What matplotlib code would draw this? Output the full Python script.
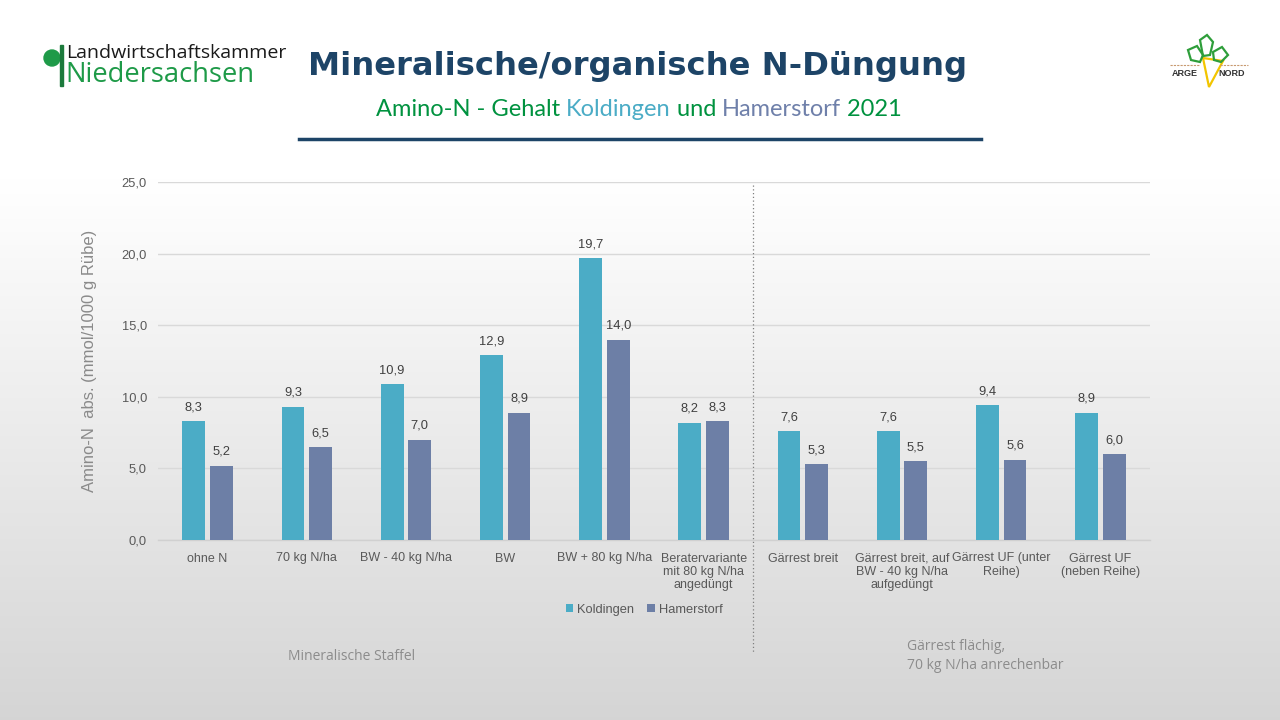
import numpy as np
import matplotlib
matplotlib.use("Agg")
import matplotlib.pyplot as plt
from matplotlib.lines import Line2D
from matplotlib.patches import Ellipse, Rectangle, Polygon
import matplotlib.transforms as mtransforms

# ---------------- data ----------------
categories = ["ohne N", "70 kg N/ha", "BW - 40 kg N/ha", "BW", "BW + 80 kg N/ha",
              "Beratervariante\nmit 80 kg N/ha\nangedüngt", "Gärrest breit",
              "Gärrest breit, auf\nBW - 40 kg N/ha\naufgedüngt", "Gärrest UF (unter\nReihe)",
              "Gärrest UF\n(neben Reihe)"]
koldingen = [8.3, 9.3, 10.9, 12.9, 19.7, 8.2, 7.6, 7.6, 9.4, 8.9]
hamerstorf = [5.2, 6.5, 7.0, 8.9, 14.0, 8.3, 5.3, 5.5, 5.6, 6.0]
series_names = ["Koldingen", "Hamerstorf"]
yticks = [0, 5, 10, 15, 20, 25]
title = "Mineralische/organische N-Düngung"
subtitle_parts = [("Amino-N - Gehalt ", "#00923F"), ("Koldingen", "#4BACC6"),
                  (" und ", "#00923F"), ("Hamerstorf", "#6F80AA"), (" 2021", "#00923F")]
ylabel = "Amino-N  abs. (mmol/1000 g Rübe)"
group_labels = ["Mineralische Staffel", "Gärrest flächig,\n70 kg N/ha anrechenbar"]

c_kold = "#4BACC6"
c_ham = "#6D7FA6"
txt_grey = "#595959"

plt.rcParams['font.family'] = ['Liberation Sans', 'DejaVu Sans']

fig = plt.figure(figsize=(12.8, 7.2), dpi=100)

# background gradient
bg = fig.add_axes([0, 0, 1, 1], zorder=-10)
grad = np.linspace(0, 1, 256)
vals = np.clip((grad - 0.25) / 0.75, 0, 1)
img = np.empty((256, 1, 3))
top = np.array([1.0, 1.0, 1.0])
bot = np.array([0.835, 0.835, 0.835])
for i, v in enumerate(vals):
    img[i, 0, :] = top * (1 - v) + bot * v
bg.imshow(img, aspect='auto', extent=[0, 1, 0, 1], origin='upper')
bg.set_axis_off()

ax = fig.add_axes([158/1280, 1-540/720, (1150-158)/1280, 358/720])
ax.set_facecolor('none')

x = np.arange(len(categories))
w = 0.23
off = 0.14
b1 = ax.bar(x - off, koldingen, w, color=c_kold, label=series_names[0], zorder=3)
b2 = ax.bar(x + off, hamerstorf, w, color=c_ham, label=series_names[1], zorder=3)
for bars, vals_ in ((b1, koldingen), (b2, hamerstorf)):
    for r, v in zip(bars, vals_):
        ax.text(r.get_x() + r.get_width()/2, v + 0.55, f"{v:.1f}".replace('.', ','),
                ha='center', va='bottom', fontsize=9.3, color="#404040")

ax.set_xlim(-0.5, len(categories) - 0.5)
ax.set_ylim(0, 25)
ax.set_yticks(yticks)
ax.set_yticklabels([f"{t:.1f}".replace('.', ',') for t in yticks], fontsize=9.3, color=txt_grey)
ax.set_xticks(x)
ax.set_xticklabels(categories, fontsize=9, color=txt_grey, linespacing=1.12, va='top')
ax.tick_params(axis='both', length=0, pad=8)
ax.tick_params(axis='x', pad=9)
ax.grid(axis='y', color='#d9d9d9', linewidth=1, zorder=0)
for s in ['top', 'right', 'left']:
    ax.spines[s].set_visible(False)
ax.spines['bottom'].set_color('#d0d0d0')
ax.spines['bottom'].set_linewidth(1)

ax.set_ylabel(ylabel, fontsize=12, color="#8a8a8a", labelpad=18)

# dotted separator
trans = mtransforms.blended_transform_factory(ax.transData, ax.transAxes)
ax.add_line(Line2D([5.5, 5.5], [0.992, -0.313], transform=trans, linestyle=(0, (1, 2)),
                   color='#7f7f7f', linewidth=0.9, clip_on=False))

# legend
leg = ax.legend(loc='upper center', bbox_to_anchor=(0.49, -0.145), ncol=2, frameon=False,
                fontsize=9.3, handlelength=0.6, handleheight=0.6, handletextpad=0.3,
                columnspacing=1.0, labelcolor=txt_grey)

# group labels
fig.text(352/1280, 1-657/720, group_labels[0], ha='center', va='center', fontsize=10,
         color="#8c8c8c", family=['Open Sans', 'DejaVu Sans'])
fig.text(907/1280, 1-656/720, group_labels[1], ha='left', va='center', fontsize=10,
         color="#8c8c8c", family=['Open Sans', 'DejaVu Sans'], linespacing=1.3)

# title
fig.text(638/1280, 1-66/720, title, ha='center', va='center', fontsize=23.2, fontweight='bold',
         color="#1D4467", family=['DejaVu Sans'])

# subtitle multicolor
fig.canvas.draw()
renderer = fig.canvas.get_renderer()
sub_fs = 17
texts = []
for s, col in subtitle_parts:
    t = fig.text(0, 1-110/720, s.replace(' ', '\u00a0'), ha='left', va='center', fontsize=sub_fs,
                 color=col, family=['Lato', 'DejaVu Sans'])
    texts.append(t)
full = ""
cum = []
for s, _ in subtitle_parts:
    full += s
    tmp = fig.text(0, 0, full.replace(' ', '\u00a0') + "|", fontsize=sub_fs, family=['Lato', 'DejaVu Sans'])
    bar = fig.text(0, 0, "|", fontsize=sub_fs, family=['Lato', 'DejaVu Sans'])
    wpx = tmp.get_window_extent(renderer).width - bar.get_window_extent(renderer).width
    tmp.remove(); bar.remove()
    cum.append(wpx)
total = cum[-1]
start = 639 - total/2
prev = 0
for t, c in zip(texts, cum):
    t.set_x((start + prev)/1280)
    prev = c

# rule under subtitle
fig.add_artist(Line2D([299/1280, 981/1280], [1-139/720, 1-139/720], color="#1D4467",
                      linewidth=2.5, transform=fig.transFigure))

# logo left
fig.add_artist(Ellipse((52/1280, 1-58/720), 16/1280, 16/720, transform=fig.transFigure,
                       color="#1E9A48"))
fig.add_artist(Rectangle((59.5/1280, 1-86/720), 3.5/1280, 41/720, transform=fig.transFigure,
                         color="#1C7A3C"))
fig.text(66/1280, 1-53/720, "Landwirtschaftskammer", fontsize=14, color="#1a1a1a",
         va='center', ha='left', family=['Open Sans', 'DejaVu Sans'])
fig.text(65/1280, 1-75/720, "Niedersachsen", fontsize=19.7, color="#1E9A48",
         va='center', ha='left', family=['Open Sans', 'DejaVu Sans'])

# logo right (ARGE NORD)
def fp(pts):
    return [(px/1280, 1-py/720) for px, py in pts]
fig.add_artist(Polygon(fp([(1203, 58), (1223, 61), (1209, 87)]), closed=True,
                       transform=fig.transFigure, fill=False, edgecolor="#F2C500", linewidth=1.6))
fig.add_artist(Polygon(fp([(1188, 50), (1197, 46), (1203, 55), (1200, 62), (1191, 60)]), closed=True,
                       transform=fig.transFigure, fill=False, edgecolor="#2E9E3A", linewidth=1.6))
fig.add_artist(Polygon(fp([(1200, 40), (1207, 35), (1213, 42), (1210, 55), (1203, 56)]), closed=True,
                       transform=fig.transFigure, fill=False, edgecolor="#2E9E3A", linewidth=1.6))
fig.add_artist(Polygon(fp([(1213, 52), (1222, 47), (1228, 55), (1221, 62), (1214, 60)]), closed=True,
                       transform=fig.transFigure, fill=False, edgecolor="#2E9E3A", linewidth=1.6))
fig.add_artist(Line2D([1170/1280, 1200/1280], [1-65/720, 1-65/720], color="#C89A70",
                      linewidth=0.8, linestyle=(0, (2, 1)), transform=fig.transFigure))
fig.add_artist(Line2D([1220/1280, 1248/1280], [1-65/720, 1-65/720], color="#C89A70",
                      linewidth=0.8, linestyle=(0, (2, 1)), transform=fig.transFigure))
fig.text(1185/1280, 1-74/720, "ARGE", fontsize=6.5, fontweight='bold', color="#333333",
         ha='center', va='center')
fig.text(1232/1280, 1-74/720, "NORD", fontsize=6.5, fontweight='bold', color="#333333",
         ha='center', va='center')

fig.savefig("out.png", dpi=100)
